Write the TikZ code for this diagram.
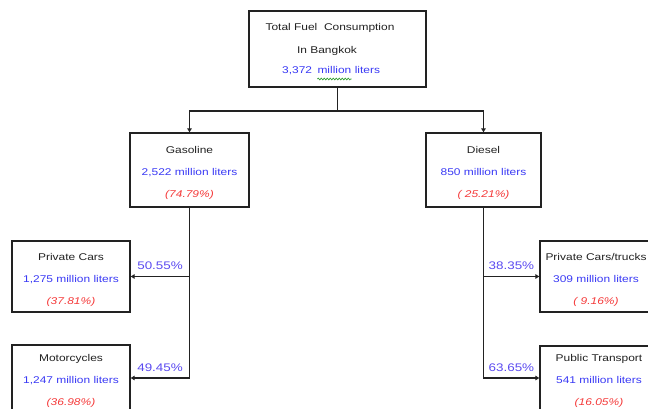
\documentclass[tikz,border=0pt]{standalone}
\usepackage{fontspec}
\setmainfont[FakeStretch=1.22]{Liberation Sans}
\usetikzlibrary{arrows.meta,decorations.pathmorphing,calc}

\definecolor{ink}{HTML}{222222}
\definecolor{amount}{HTML}{3A3AF5}
\definecolor{share}{HTML}{F53A3A}
\definecolor{splitpct}{HTML}{5A4AF0}
\definecolor{spell}{HTML}{3AA03A}

% three-line contents of a fuel box: label, volume, share of the total
% (the strut lowers the block a little inside its frame)
\newcommand\fueltext[3]{\rule{0pt}{14pt}{\color{ink}#1}\\{\color{amount}#2}\\{\color{share}\itshape #3}}

\begin{document}
\begin{tikzpicture}[x=1pt,y=-1pt,
  txt/.style={font=\fontsize{9.8}{22}\selectfont},
  box/.style={draw=ink, line width=1.3pt, fill=white, align=center, inner sep=0pt, txt},
  link/.style={draw=ink, line width=1.3pt},
  tip/.style={link, -{Triangle[length=4pt,width=4.5pt]}},
  pctlabel/.style={font=\fontsize{11}{13}\selectfont, text=splitpct, inner sep=1pt},
  line/.style={txt, anchor=base, inner sep=0pt},
]
\useasboundingbox (0,0) rectangle (648,409);
\clip (0,0) rectangle (648,409);

% total consumption
\node[box, minimum width=177pt, minimum height=76pt] (total) at (337.5,49) {};
\node[line, text=ink] (t1) at (330,30.5) {Total Fuel\ \ Consumption};
\node[line, text=ink] (t2) at (327,53.5) {In Bangkok};
\node[line, text=amount, anchor=base west] (t3a) at (282,73.5) {3,372};
\node[line, text=amount, anchor=base west] (t3b) at ($(t3a.base east)+(5,0)$) {million};
\node[line, text=amount, anchor=base west] (t3c) at ($(t3b.base east)+(3,0)$) {liters};
\draw[spell, line width=0.7pt, decorate, decoration={snake, amplitude=0.9pt, segment length=3pt}]
  ($(t3b.base west)+(0,5.5)$) -- ($(t3b.base east)+(0,5.5)$);

% fuel types
\node[box, minimum width=119pt, minimum height=74pt] (gas) at (189.5,170)
  {\fueltext{Gasoline}{2,522 million liters}{(74.79\%)}};
\node[box, minimum width=115pt, minimum height=74pt] (dsl) at (483.5,170)
  {\fueltext{Diesel}{850 million liters}{( 25.21\%)}};

% vehicle groups
\node[box, minimum width=118pt, minimum height=71pt] (pcars) at (71,276.5)
  {\fueltext{Private Cars}{1,275 million liters}{(37.81\%)}};
\node[box, minimum width=118pt, minimum height=66pt] (moto) at (71,378)
  {\fueltext{Motorcycles}{1,247 million liters}{(36.98\%)}};
\node[box, minimum width=112pt, minimum height=71pt] (ptrk) at (596,276.5)
  {\fueltext{Private Cars/trucks}{309 million liters}{( 9.16\%)}};
\node[box, minimum width=118pt, minimum height=64pt] (pubt) at (599,378)
  {\fueltext{Public Transport}{541 million liters}{(16.05\%)}};

% connectors
\coordinate (fork) at (total.south |- 0,111);
\draw[link] (total.south) -- (fork);
\draw[tip] (fork) -| (gas.north);
\draw[tip] (fork) -| (dsl.north);

\draw[tip] (gas.south) |- node[pctlabel, pos=0.75, above=5pt] (g1) {50.55\%} (pcars.east);
\draw[tip] (gas.south) |- node[pctlabel, pos=0.75, above=5pt] (g2) {49.45\%} (moto.east);
\draw[tip] (dsl.south) |- node[pctlabel, pos=0.75, above=5pt] (d1) {38.35\%} (ptrk.west);
\draw[tip] (dsl.south) |- node[pctlabel, pos=0.75, above=5pt] (d2) {63.65\%} (pubt.west);
\end{tikzpicture}
\end{document}
